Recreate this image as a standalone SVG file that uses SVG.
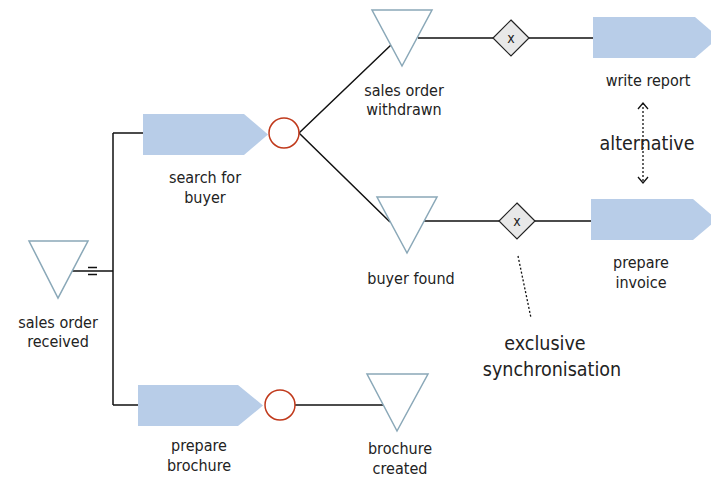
<svg xmlns="http://www.w3.org/2000/svg" width="711" height="479" viewBox="0 0 711 479">
<style>
.ev{fill:#fff;stroke:#8aa8b8;stroke-width:1.5}
.fn{fill:#b8cde8;stroke:none}
.xor{fill:#e8e8e8;stroke:#222;stroke-width:1.2}
.and{fill:#fff;stroke:#c0391b;stroke-width:1.5}
.ln{stroke:#111;stroke-width:1.5;fill:none}
.dot{stroke:#111;stroke-width:1.3;fill:none;stroke-dasharray:2 2}
text{font-family:"DejaVu Sans Condensed","DejaVu Sans",Verdana,sans-serif;font-size:16px;fill:#222;text-anchor:middle}
.big{font-size:19.5px}
.sm{font-size:14px}
</style>
<defs>
<marker id="open" viewBox="0 0 12 12" refX="7" refY="6" markerWidth="12" markerHeight="12" markerUnits="userSpaceOnUse" orient="auto-start-reverse">
<path d="M1,1 L7,6 L1,11" fill="none" stroke="#111" stroke-width="1.3"/>
</marker>
</defs>
<g id="connectors">
<path class="ln" d="M72,271 H113 M113,133 V405 M113,133 H143 M113,405 H138"/>
<path class="ln" d="M299,133 L391,45 M299,133 L390,222"/>
<path class="ln" d="M418,38 H493 M529,38 H593"/>
<path class="ln" d="M423,221 H499 M535,221 H591"/>
<path class="ln" d="M295,405 H383"/>
<path class="dot" d="M643,103 V183" marker-start="url(#open)" marker-end="url(#open)"/>
<path class="dot" d="M518,256 L531,318"/>
<path d="M88,267.5 H97 M88,274.5 H97" stroke="#111" stroke-width="1.5"/>
</g>
<g id="ev-received">
<polygon class="ev" points="29,241 88,241 58,298"/>
<text x="58" y="328">sales order</text>
<text x="58" y="347">received</text>
</g>
<g id="fn-search">
<polygon class="fn" points="143,114 244,114 268,134.5 244,155 143,155"/>
<text x="205" y="183">search for</text>
<text x="205" y="203">buyer</text>
</g>
<g id="and-1">
<circle class="and" cx="284" cy="133" r="15"/>
</g>
<g id="ev-withdrawn">
<polygon class="ev" points="372,10 432,10 402,66"/>
<text x="404" y="96">sales order</text>
<text x="404" y="115">withdrawn</text>
</g>
<g id="xor-1">
<polygon class="xor" points="511,20 529,38 511,56 493,38"/>
<text x="511" y="43" class="sm">x</text>
</g>
<g id="fn-report">
<polygon class="fn" points="593,17 695,17 719,37.5 695,58 593,58"/>
<text x="648" y="86">write report</text>
</g>
<g id="ev-found">
<polygon class="ev" points="377,197 437,197 407,253"/>
<text x="411" y="284">buyer found</text>
</g>
<g id="xor-2">
<polygon class="xor" points="517,203 535,221 517,239 499,221"/>
<text x="517" y="226" class="sm">x</text>
</g>
<g id="fn-invoice">
<polygon class="fn" points="591,199 693,199 717,219.5 693,240 591,240"/>
<text x="641" y="268">prepare</text>
<text x="641" y="288">invoice</text>
</g>
<g id="fn-brochure">
<polygon class="fn" points="138,385 238,385 263,405.5 238,426 138,426"/>
<text x="199" y="451">prepare</text>
<text x="199" y="471">brochure</text>
</g>
<g id="and-2">
<circle class="and" cx="280" cy="405" r="15"/>
</g>
<g id="ev-brochure">
<polygon class="ev" points="367,374 428,374 397,431"/>
<text x="400" y="454">brochure</text>
<text x="400" y="474">created</text>
</g>
<g id="note-alt">
<text x="647" y="150" class="big">alternative</text>
</g>
<g id="note-excl">
<text x="545" y="350" class="big">exclusive</text>
<text x="552" y="376" class="big">synchronisation</text>
</g>
</svg>
